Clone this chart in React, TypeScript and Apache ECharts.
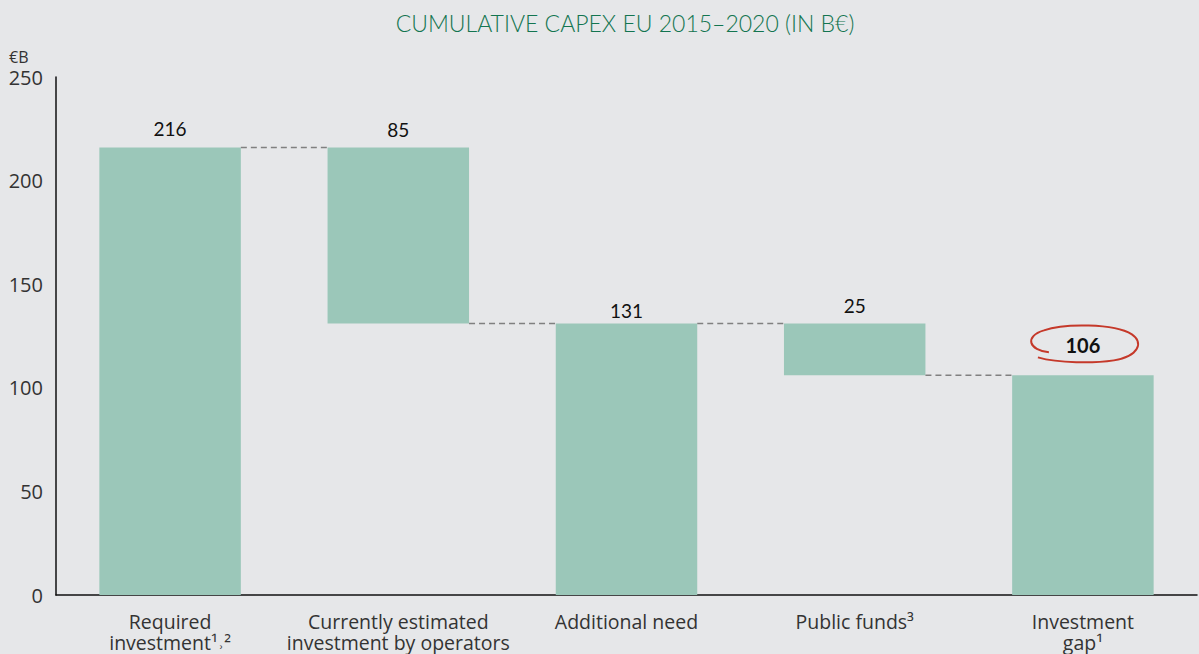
import React, { useEffect, useRef } from "react";
import * as echarts from "echarts";

const CATEGORIES = [
  "Required\ninvestment¹˒²",
  "Currently estimated\ninvestment by operators",
  "Additional need",
  "Public funds³",
  "Investment\ngap¹",
];
const BASE_VALUES = [0, 131, 0, 106, 0];
const BAR_VALUES = [216, 85, 131, 25, 106];
const CONNECTOR_LEVELS = [216, 131, 131, 106];
const Y_TICKS = [0, 50, 100, 150, 200, 250];
const HIGHLIGHT_INDEX = 4;

const BAR_COLOR = "#9bc7b9";
const BG = "#e6e7e9";
const BAR_RATIO = 0.62;

export default function App() {
  const ref = useRef<HTMLDivElement>(null);
  useEffect(() => {
    document.body.style.margin = "0";
    document.body.style.background = BG;
    const chart = echarts.init(ref.current!, null, { renderer: "svg" });
    const labelDist = [9, 8, 4, 9, 20];
    const option: any = {
      animation: false,
      backgroundColor: BG,
      textStyle: { fontFamily: "Open Sans" },
      graphic: [
        {
          type: "text",
          x: 625,
          y: 23,
          style: {
            text: "CUMULATIVE CAPEX EU 2015–2020 (IN B€)",
            fill: "#137550",
            fontSize: 23,
            fontWeight: 300,
            fontFamily: "Lato",
            textAlign: "center",
            textVerticalAlign: "middle",
          },
        },
        {
          type: "text",
          x: 9,
          y: 57,
          style: {
            text: "€B",
            fill: "#333",
            fontSize: 16,
            fontFamily: "Open Sans",
            textVerticalAlign: "middle",
          },
        },
      ],
      grid: { left: 56, right: 2, top: 77, bottom: 59, containLabel: false },
      xAxis: {
        type: "category",
        data: CATEGORIES,
        axisLine: { show: true, lineStyle: { color: "#111", width: 1.5 } },
        axisTick: { show: false },
        axisLabel: {
          interval: 0,
          color: "#333",
          fontSize: 19.5,
          lineHeight: 21,
          margin: 16,
          fontFamily: "Open Sans",
        },
      },
      yAxis: {
        type: "value",
        min: Y_TICKS[0],
        max: Y_TICKS[Y_TICKS.length - 1],
        interval: Y_TICKS[1] - Y_TICKS[0],
        axisLine: { show: true, lineStyle: { color: "#111", width: 1.5 } },
        axisTick: { show: false },
        splitLine: { show: false },
        axisLabel: { color: "#333", fontSize: 20, margin: 13, fontFamily: "Open Sans" },
      },
      series: [
        {
          type: "bar",
          stack: "w",
          data: BASE_VALUES,
          barWidth: BAR_RATIO * 100 + "%",
          itemStyle: { color: "transparent" },
          emphasis: { disabled: true },
          silent: true,
        },
        {
          type: "bar",
          stack: "w",
          data: BAR_VALUES.map((v, i) => ({
            value: v,
            label: {
              show: true,
              position: "top",
              distance: labelDist[i],
              fontSize: i === HIGHLIGHT_INDEX ? 20 : 19,
              fontWeight: i === HIGHLIGHT_INDEX ? "bold" : "normal",
              color: "#111",
              fontFamily: "Lato",
            },
          })),
          barWidth: BAR_RATIO * 100 + "%",
          itemStyle: { color: BAR_COLOR },
        },
        {
          type: "custom",
          data: CONNECTOR_LEVELS.map((v, i) => [i, v]),
          encode: { x: 0, y: 1 },
          silent: true,
          z: 5,
          renderItem: (params: any, api: any) => {
            const i = api.value(0);
            const v = api.value(1);
            const a = api.coord([i, v]);
            const b = api.coord([i + 1, v]);
            const hw = (api.size([1, 0])[0] * BAR_RATIO) / 2;
            return {
              type: "line",
              shape: { x1: a[0] + hw, y1: a[1], x2: b[0] - hw, y2: b[1] },
              style: { stroke: "#808080", lineWidth: 1.5, lineDash: [6, 4] },
            };
          },
        },
        {
          type: "custom",
          data: [[HIGHLIGHT_INDEX, BAR_VALUES[HIGHLIGHT_INDEX]]],
          encode: { x: 0, y: 1 },
          silent: true,
          z: 6,
          renderItem: (params: any, api: any) => {
            const p = api.coord([api.value(0), api.value(1)]);
            return {
              type: "path",
              x: p[0] + 1,
              y: p[1] - 31,
              shape: {
                pathData:
                  "M -35 8 C -55 6 -60 -8 -40 -14 C -20 -21 30 -21 48 -10 C 60 -2 55 12 30 16 C 10 19 -25 19 -46 13",
              },
              style: { stroke: "#c5392a", fill: "none", lineWidth: 2 },
            };
          },
        },
      ],
    };
    chart.setOption(option);
    return () => chart.dispose();
  }, []);
  return <div ref={ref} style={{ width: 1199, height: 654 }} />;
}
